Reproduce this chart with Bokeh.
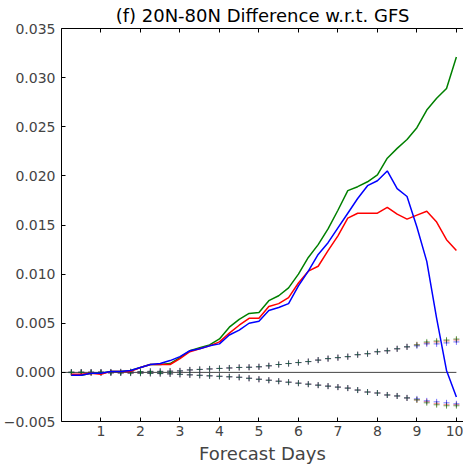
from bokeh.plotting import figure
from bokeh.models import LinearAxis, FixedTicker, CustomJSTickFormatter, Range1d
from bokeh.embed import file_html
from bokeh.resources import INLINE

# ---- data ----
days = [0.25, 0.5, 0.75, 1.0, 1.25, 1.5, 1.75, 2.0, 2.25, 2.5, 2.75, 3.0,
        3.25, 3.5, 3.75, 4.0, 4.25, 4.5, 4.75, 5.0, 5.25, 5.5, 5.75, 6.0,
        6.25, 6.5, 6.75, 7.0, 7.25, 7.5, 7.75, 8.0, 8.25, 8.5, 8.75, 9.0,
        9.25, 9.5, 9.75, 10.0]

green_diff = [-0.0003, -0.0003, -0.0001, -0.0001, 0.0001, 0.0001, 0.0002, 0.0005,
              0.0008, 0.0008, 0.0009, 0.0015, 0.0022, 0.0025, 0.0028, 0.0034,
              0.0046, 0.0054, 0.0060, 0.0061, 0.0073, 0.0078, 0.0086, 0.0100,
              0.0117, 0.0130, 0.0146, 0.0165, 0.0185, 0.0189, 0.0194, 0.0201,
              0.0218, 0.0228, 0.0237, 0.0249, 0.0267, 0.0279, 0.0289, 0.0321]
red_diff = [-0.0002, -0.0002, -0.0001, -0.0002, 0.0001, 0.0001, 0.0001, 0.0005,
            0.0008, 0.0008, 0.0008, 0.0014, 0.0021, 0.0024, 0.0027, 0.0031,
            0.0040, 0.0048, 0.0055, 0.0055, 0.0067, 0.0070, 0.0076, 0.0091,
            0.0103, 0.0108, 0.0124, 0.0139, 0.0157, 0.0162, 0.0162, 0.0162,
            0.0168, 0.0161, 0.0156, 0.0160, 0.0164, 0.0153, 0.0135, 0.0124]
blue_diff = [-0.0003, -0.0003, -0.0001, -0.0001, 0.0001, 0.0001, 0.0002, 0.0005,
             0.0008, 0.0009, 0.0012, 0.0016, 0.0022, 0.0024, 0.0027, 0.0029,
             0.0038, 0.0043, 0.0050, 0.0052, 0.0063, 0.0066, 0.0070, 0.0088,
             0.0103, 0.0120, 0.0132, 0.0147, 0.0162, 0.0177, 0.0190, 0.0195,
             0.0205, 0.0187, 0.0179, 0.0148, 0.0113, 0.0055, 0.0002, -0.0025]

upper_red = [0.00002, 0.00002, 0.00002, 0.00003, 0.00004, 0.00005, 0.00006, 0.00007,
             0.0001, 0.0001, 0.00012, 0.00015, 0.00025, 0.0003, 0.00035, 0.0004,
             0.00045, 0.0005, 0.00052, 0.00057, 0.00067, 0.0008, 0.0009, 0.0010,
             0.0011, 0.00125, 0.0014, 0.0015, 0.0016, 0.0018, 0.0019, 0.0021,
             0.0022, 0.0024, 0.0026, 0.0028, 0.0030, 0.0031, 0.0032, 0.0033]
upper_blue = [0.00002, 0.00002, 0.00002, 0.00003, 0.00004, 0.00005, 0.00006, 0.00007,
              0.0001, 0.0001, 0.00012, 0.00015, 0.00025, 0.0003, 0.00035, 0.0004,
              0.00045, 0.0005, 0.00052, 0.00057, 0.00067, 0.0008, 0.0009, 0.0010,
              0.0011, 0.00125, 0.0014, 0.0015, 0.0016, 0.0018, 0.0019, 0.0021,
              0.0022, 0.0024, 0.0026, 0.0027, 0.0029, 0.0029, 0.0030, 0.0031]
upper_green = [0.00002, 0.00002, 0.00002, 0.00003, 0.00004, 0.00005, 0.00006, 0.00007,
               0.0001, 0.0001, 0.00012, 0.00015, 0.00025, 0.0003, 0.00035, 0.0004,
               0.00045, 0.0005, 0.00052, 0.00057, 0.00067, 0.0008, 0.0009, 0.0010,
               0.0011, 0.00125, 0.0014, 0.0015, 0.0016, 0.0018, 0.0019, 0.0021,
               0.0022, 0.0024, 0.0026, 0.0028, 0.0031, 0.0032, 0.0033, 0.0034]
lower_red = [-0.00002, -0.00002, -0.00003, -0.00004, -0.00005, -0.00006, -0.00007, -0.00008,
             -0.0001, -0.00012, -0.00015, -0.0002, -0.00025, -0.0003, -0.00035, -0.0004,
             -0.00045, -0.0005, -0.0006, -0.0007, -0.0008, -0.0009, -0.0010, -0.0011,
             -0.0012, -0.0013, -0.0014, -0.0015, -0.0016, -0.0018, -0.0020, -0.0021,
             -0.0023, -0.0024, -0.0026, -0.0028, -0.0030, -0.0032, -0.0033, -0.0033]
lower_blue = [-0.00002, -0.00002, -0.00003, -0.00004, -0.00005, -0.00006, -0.00007, -0.00008,
              -0.0001, -0.00012, -0.00015, -0.0002, -0.00025, -0.0003, -0.00035, -0.0004,
              -0.00045, -0.0005, -0.0006, -0.0007, -0.0008, -0.0009, -0.0010, -0.0011,
              -0.0012, -0.0013, -0.0014, -0.0015, -0.0016, -0.0018, -0.0020, -0.0021,
              -0.0023, -0.0024, -0.0026, -0.0027, -0.0029, -0.0030, -0.0031, -0.0032]
lower_green = [-0.00002, -0.00002, -0.00003, -0.00004, -0.00005, -0.00006, -0.00007, -0.00008,
               -0.0001, -0.00012, -0.00015, -0.0002, -0.00025, -0.0003, -0.00035, -0.0004,
               -0.00045, -0.0005, -0.0006, -0.0007, -0.0008, -0.0009, -0.0010, -0.0011,
               -0.0012, -0.0013, -0.0014, -0.0015, -0.0016, -0.0018, -0.0020, -0.0021,
               -0.0023, -0.0024, -0.0026, -0.0028, -0.0031, -0.0033, -0.0034, -0.0034]

zero_line_x = [0.0, 10.0]
zero_line_y = [0.0, 0.0]
x_ticks = [1, 2, 3, 4, 5, 6, 7, 8, 9, 10]
y_ticks = [-0.005, 0.0, 0.005, 0.010, 0.015, 0.020, 0.025, 0.030, 0.035]

FONT = "DejaVu Sans"
GREEN = "#008000"
RED = "#ff0000"
BLUE = "#0000ff"

p = figure(width=463, height=468, output_backend="svg", toolbar_location=None,
           x_range=Range1d(0, 10.18), y_range=Range1d(-0.005, 0.035),
           title="(f) 20N-80N Difference w.r.t. GFS",
           min_border_left=60, min_border_right=0, min_border_top=27,
           min_border_bottom=47)

p.background_fill_color = "white"
p.border_fill_color = "white"
p.outline_line_color = None
p.xgrid.visible = False
p.ygrid.visible = False

p.title.text_font = FONT
p.title.text_font_size = "18px"
p.title.text_font_style = "normal"
p.title.align = "center"
p.title.text_color = "black"
p.title.standoff = 5
p.title.offset = 8

xa = p.xaxis[0]
xa.ticker = FixedTicker(ticks=x_ticks)
xa.axis_label = "Forecast Days"
xa.axis_label_text_font = FONT
xa.axis_label_text_font_size = "18px"
xa.axis_label_text_font_style = "normal"
xa.axis_label_standoff = 4
xa.major_label_text_font = FONT
xa.major_label_text_font_size = "14px"
xa.major_label_standoff = 4
xa.major_tick_in = 4
xa.major_tick_out = 0
xa.minor_tick_in = 0
xa.minor_tick_out = 0
xa.axis_line_color = "black"
xa.major_tick_line_color = "black"

ya = p.yaxis[0]
ya.ticker = FixedTicker(ticks=y_ticks)
ya.formatter = CustomJSTickFormatter(code="return tick.toFixed(3).replace('-', '\u2212');")
ya.major_label_text_font = FONT
ya.major_label_text_font_size = "14px"
ya.major_label_standoff = 6
ya.major_tick_in = 4
ya.major_tick_out = 0
ya.minor_tick_in = 0
ya.minor_tick_out = 0
ya.axis_line_color = "black"
ya.major_tick_line_color = "black"

top = LinearAxis(ticker=FixedTicker(ticks=x_ticks),
                 formatter=CustomJSTickFormatter(code="return '';"),
                 major_label_standoff=0,
                 major_tick_in=4, major_tick_out=0,
                 minor_tick_in=0, minor_tick_out=0,
                 axis_line_color="black", major_tick_line_color="black")
p.add_layout(top, "above")

# zero reference line
p.line(zero_line_x, zero_line_y, line_color="#444444", line_width=1)

# ensemble spread markers
for up, lo, col in [(upper_red, lower_red, RED), (upper_blue, lower_blue, BLUE),
                    (upper_green, lower_green, GREEN)]:
    p.scatter(days, up, marker="cross", size=6, line_color=col, line_width=1,
              line_alpha=0.55)
    p.scatter(days, lo, marker="cross", size=6, line_color=col, line_width=1,
              line_alpha=0.55)

# difference curves
p.line(days, green_diff, line_color=GREEN, line_width=1.5)
p.line(days, red_diff, line_color=RED, line_width=1.5)
p.line(days, blue_diff, line_color=BLUE, line_width=1.5)

open("out.html", "w").write(file_html(p, INLINE))
